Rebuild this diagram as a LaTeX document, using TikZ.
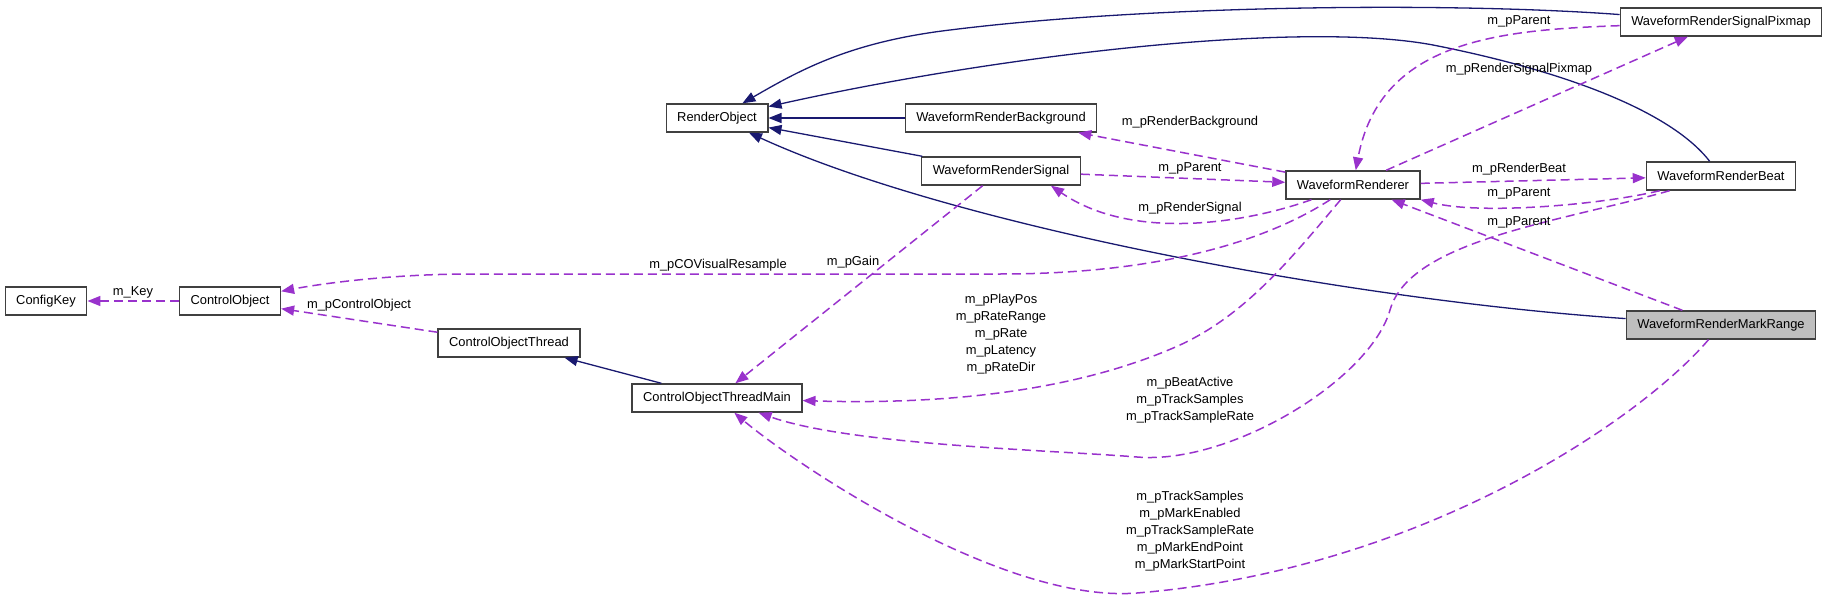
\documentclass[tikz,border=0pt]{standalone}
\usepackage{fontspec}
\setmainfont{Liberation Sans}
\usetikzlibrary{arrows.meta}
\definecolor{inhblue}{RGB}{25,25,112}
\definecolor{usepurple}{RGB}{153,50,204}

\begin{document}
\begin{tikzpicture}[x=1pt,y=-1pt,
    font=\fontsize{12.9}{17}\selectfont,
    inherit/.style={draw=inhblue,line width=1.3pt,-{Triangle[length=13pt,width=10pt]}},
    uses/.style={draw=usepurple,line width=1.5pt,dash pattern=on 9pt off 5pt,-{Triangle[length=13pt,width=10pt]}}]

      \useasboundingbox (0,0) rectangle (1829,599);

      \begin{scope}[every node/.style={draw=black!75,line width=1.4pt,minimum height=28pt,inner xsep=11pt,inner ysep=0pt}]
        \node (1)  at (717,118)  {RenderObject};
        \node (2)  at (46,301)   {ConfigKey};
        \node (3)  at (230,301)  {ControlObject};
        \node (4)  at (509,343)  {ControlObjectThread};
        \node (5)  at (717,398)  {ControlObjectThreadMain};
        \node (6)  at (1721,22)  {WaveformRenderSignalPixmap};
        \node (7)  at (1001,118) {WaveformRenderBackground};
        \node (8)  at (1001,171) {WaveformRenderSignal};
        \node (9)  at (1353,185) {WaveformRenderer};
        \node (10) at (1721,176) {WaveformRenderBeat};
        \node[fill=black!25] (11) at (1721,325) {WaveformRenderMarkRange};
      \end{scope}

      % base classes
      \draw[inherit] (6) .. controls (1450,2) and (1150,5) .. (950,30) .. controls (850,42) and (800,70) .. (1);
      \draw[inherit] (10) .. controls (1670,110) and (1560,70) .. (1433,45) .. controls (1300,20) and (1000,55) .. (1);
      \path (7) edge[inherit] (1);
      \path (8) edge[inherit] (1);
      \draw[inherit] (11) .. controls (1350,300) and (950,225) .. (1);
      \path (5) edge[inherit] (4);

      % members
      \path (3) edge[uses] (2);
      \path (4) edge[uses] (3);
      \draw[uses] (9) .. controls (1260,245) and (1150,274) .. (1000,274) -- (470,274) .. controls (400,274) and (330,282) .. (3);
      \path (8) edge[uses] (5);
      \draw[uses] (9) .. controls (1290,260) and (1245,315) .. (1180,345) .. controls (1080,390) and (950,405) .. (5);
      \draw[uses] (10) .. controls (1560,222) and (1410,240) .. (1390,310) .. controls (1370,380) and (1230,465) .. (1137,457) .. controls (1050,450) and (850,445) .. (5);
      \draw[uses] (11) .. controls (1640,420) and (1420,570) .. (1137,593) .. controls (1000,604) and (790,460) .. (5);
      \path (9) edge[uses] (7);
      \path (8) edge[uses] (9);
      \draw[uses] (9) .. controls (1240,225) and (1130,240) .. ([xshift=50pt]8.south);
      \path (9) edge[uses] (10);
      \draw[uses] (10) .. controls (1600,205) and (1480,215) .. (9.south east);
      \draw[uses] (6) .. controls (1500,30) and (1380,40) .. (9);
      \path (9) edge[uses] (6);
      \path (11) edge[uses] (9);

      \begin{scope}[every node/.style={inner sep=0pt,align=center}]
        \node (l1)  at (133,292)  {m\_Key};
        \node (l2)  at (359,305)  {m\_pControlObject};
        \node (l3)  at (718,265)  {m\_pCOVisualResample};
        \node (l4)  at (853,262)  {m\_pGain};
        \node (l5)  at (1001,334) {m\_pPlayPos\\m\_pRateRange\\m\_pRate\\m\_pLatency\\m\_pRateDir};
        \node (l6)  at (1190,400) {m\_pBeatActive\\m\_pTrackSamples\\m\_pTrackSampleRate};
        \node (l7)  at (1190,531) {m\_pTrackSamples\\m\_pMarkEnabled\\m\_pTrackSampleRate\\m\_pMarkEndPoint\\m\_pMarkStartPoint};
        \node (l8)  at (1190,122) {m\_pRenderBackground};
        \node (l9)  at (1190,168) {m\_pParent};
        \node (l10) at (1190,208) {m\_pRenderSignal};
        \node (l11) at (1519,169) {m\_pRenderBeat};
        \node (l12) at (1519,193) {m\_pParent};
        \node (l13) at (1519,21)  {m\_pParent};
        \node (l14) at (1519,69)  {m\_pRenderSignalPixmap};
        \node (l15) at (1519,222) {m\_pParent};
      \end{scope}

    \end{tikzpicture}
\end{document}
